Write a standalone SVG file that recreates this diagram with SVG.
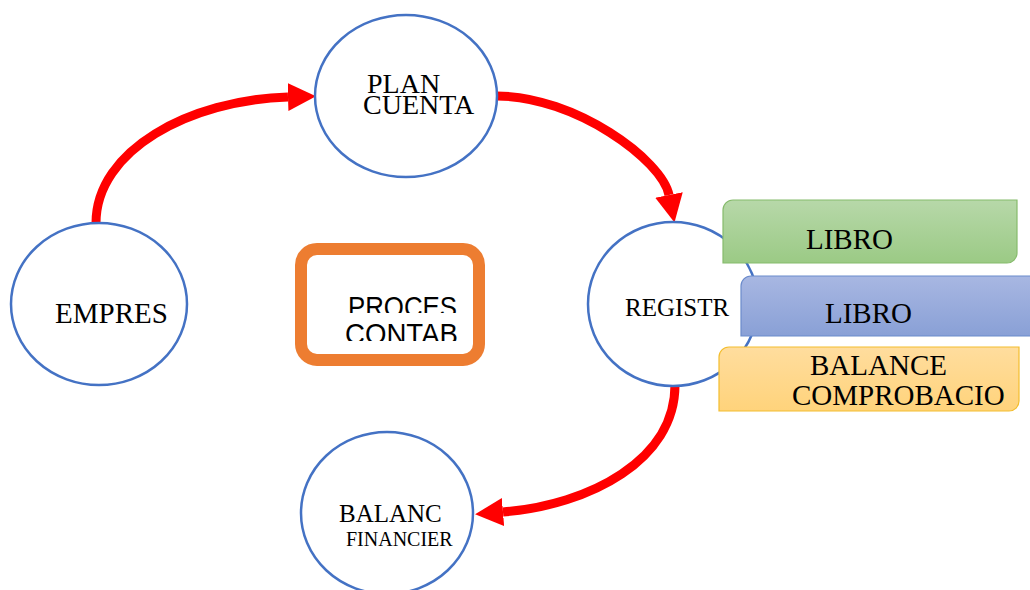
<svg xmlns="http://www.w3.org/2000/svg" width="1030" height="590" viewBox="0 0 1030 590">
<style>
.node{fill:#fff;stroke:#4472c4;stroke-width:2.5}
.t{font-family:"Liberation Serif","Times New Roman",serif;fill:#000}
.s{font-family:"Liberation Sans",Arial,sans-serif;fill:#000;font-size:30px}
.arr{fill:none;stroke:#ff0000;stroke-width:9;marker-end:url(#head)}
</style>
<defs>
<marker id="head" viewBox="0 0 28 28" refX="0" refY="14" markerWidth="28" markerHeight="28" markerUnits="userSpaceOnUse" orient="auto">
<path d="M0 0 L28 14 L0 28 Z" fill="#ff0000"/>
</marker>
<linearGradient id="gG" x1="0" y1="0" x2="0" y2="1"><stop offset="0" stop-color="#b7d8a9"/><stop offset="1" stop-color="#9bca85"/></linearGradient>
<linearGradient id="gB" x1="0" y1="0" x2="0" y2="1"><stop offset="0" stop-color="#a8b7e2"/><stop offset="1" stop-color="#89a0d6"/></linearGradient>
<linearGradient id="gY" x1="0" y1="0" x2="0" y2="1"><stop offset="0" stop-color="#ffdd9e"/><stop offset="1" stop-color="#ffd37b"/></linearGradient>
<clipPath id="c1"><rect x="300" y="280" width="180" height="33"/></clipPath>
<clipPath id="c2"><rect x="300" y="316" width="180" height="25"/></clipPath>
</defs>

<g id="connectors">
<path class="arr" d="M96 223 C96 150 190 100 288 97"/>
<path class="arr" d="M497 96 C575 96 662 160 669 195"/>
<path class="arr" d="M675 385 C675 460 590 505 503 512"/>
</g>

<g id="empres">
<ellipse class="node" cx="99" cy="304" rx="88" ry="81"/>
<text class="t" x="55" y="323" font-size="29">EMPRES</text>
</g>

<g id="plan">
<ellipse class="node" cx="406" cy="96" rx="91" ry="81"/>
<text class="t" x="367" y="93" font-size="28">PLAN</text>
<text class="t" x="363" y="114" font-size="28">CUENTA</text>
</g>

<g id="registr">
<ellipse class="node" cx="673" cy="304" rx="85" ry="82"/>
<text class="t" x="625" y="316" font-size="25">REGISTR</text>
</g>

<g id="balanc">
<ellipse class="node" cx="387" cy="513" rx="86" ry="81"/>
<text class="t" x="339" y="522" font-size="25">BALANC</text>
<text class="t" x="346" y="546" font-size="20">FINANCIER</text>
</g>

<g id="proces">
<rect x="301" y="249" width="178" height="111" rx="16" fill="#fff" stroke="#ed7d31" stroke-width="12"/>
<text class="s" x="348" y="316.5" textLength="109" lengthAdjust="spacingAndGlyphs" clip-path="url(#c1)">PROCES</text>
<text class="s" x="345" y="343.5" textLength="113" lengthAdjust="spacingAndGlyphs" clip-path="url(#c2)">CONTAB</text>
</g>

<g id="libro1">
<path d="M733 200 H1017 V253 A10 10 0 0 1 1007 263 H723 V210 A10 10 0 0 1 733 200 Z" fill="url(#gG)" stroke="#86bb6c" stroke-width="1.2"/>
<text class="t" x="806" y="249" font-size="29">LIBRO</text>
</g>

<g id="libro2">
<path d="M751 276 H1040 V336 H741 V286 A10 10 0 0 1 751 276 Z" fill="url(#gB)" stroke="#6b8bcb" stroke-width="1.2"/>
<text class="t" x="825" y="323" font-size="29">LIBRO</text>
</g>

<g id="balance">
<path d="M729 347 H1019 V401 A10 10 0 0 1 1009 411 H719 V357 A10 10 0 0 1 729 347 Z" fill="url(#gY)" stroke="#f3bd2e" stroke-width="1.2"/>
<text class="t" x="810" y="375" font-size="29">BALANCE</text>
<text class="t" x="792" y="405" font-size="29">COMPROBACIO</text>
</g>
</svg>
